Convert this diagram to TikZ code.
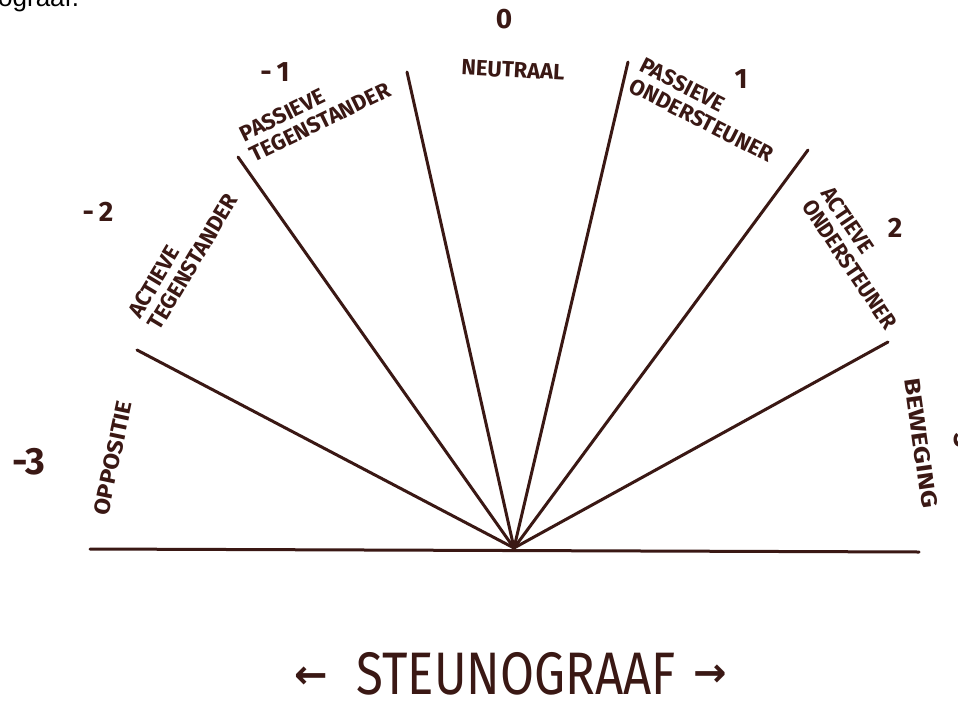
\documentclass[tikz,border=0pt]{standalone}
\usepackage{fontspec}
\setmainfont{Fira Sans}
\newfontfamily\pagefont{Liberation Sans}
\newfontfamily\arrowfont{DejaVu Sans}
\definecolor{ink}{RGB}{58,24,20}
\begin{document}
\begin{tikzpicture}[x=1pt,y=-1pt,
  spoke/.style={draw=ink,line width=3pt,line cap=round},
  lbl/.style={text=ink,font=\fontsize{22}{23}\selectfont\bfseries,align=left,inner sep=0pt},
  num/.style={text=ink,font=\fontsize{28}{28}\selectfont\bfseries,inner sep=0pt}]
\useasboundingbox (0,0) rectangle (958,704);
\clip (0,0) rectangle (958,704);
\fill[white] (0,0) rectangle (958,704);
% fan
\coordinate (c) at (514,548);
\coordinate (bl) at (90,549);
\coordinate (br) at (919,552);
\coordinate (e1) at (137,350);
\coordinate (e2) at (238,157);
\coordinate (e3) at (407,72);
\coordinate (e4) at (628,62);
\coordinate (e5) at (808,150);
\coordinate (e6) at (888,342);
\draw[spoke] (bl) -- (br);
\foreach \e in {e1,e2,e3,e4,e5,e6} \draw[spoke] (c) -- (\e);
% page text fragment
\node[anchor=base west,inner sep=0pt,font=\pagefont\fontsize{26}{26}\selectfont] (pg) at (-2,6) {ograaf.};
% numbers
\node[num] (n0) at (504,19) {0};
\node[num] (nm1) at (275,72) {-\,1};
\node[num] (nm2) at (98,212) {-\,2};
\node[num,font=\fontsize{38}{38}\selectfont\bfseries] (nm3) at (29,462) {-3};
\node[num] (n1) at (741,79) {1};
\node[num] (n2) at (895,228) {2};
\node[num,rotate=-90] (n3) at (964,441) {3};
% labels
\node[lbl,rotate=-3] (neu) at (513,70) {NEUTRAAL};
\node[lbl,rotate=26] (pt) at (315,112) {PASSIEVE\\TEGENSTANDER};
\node[lbl,rotate=59] (at) at (183,256) {ACTIEVE\\TEGENSTANDER};
\node[lbl,rotate=78,xscale=1.1] (op) at (113,458) {OPPOSITIE};
\node[lbl,rotate=-27] (po) at (707,110) {PASSIEVE\\ONDERSTEUNER};
\node[lbl,rotate=-56,xscale=0.95] (ao) at (859,258) {ACTIEVE\\ONDERSTEUNER};
\node[lbl,rotate=-82,xscale=1.25] (bw) at (921,443) {BEWEGING};
% title
\node[text=ink,inner sep=0pt,font=\fontsize{60}{60}\selectfont,xscale=0.82] (title) at (516,674) {STEUNOGRAAF};
\node[text=ink,inner sep=0pt,font=\arrowfont\bfseries\fontsize{40}{40}\selectfont] (la) at (311,678) {←};
\node[text=ink,inner sep=0pt,font=\arrowfont\bfseries\fontsize{40}{40}\selectfont] (ra) at (710,676) {→};
\end{tikzpicture}
\end{document}
